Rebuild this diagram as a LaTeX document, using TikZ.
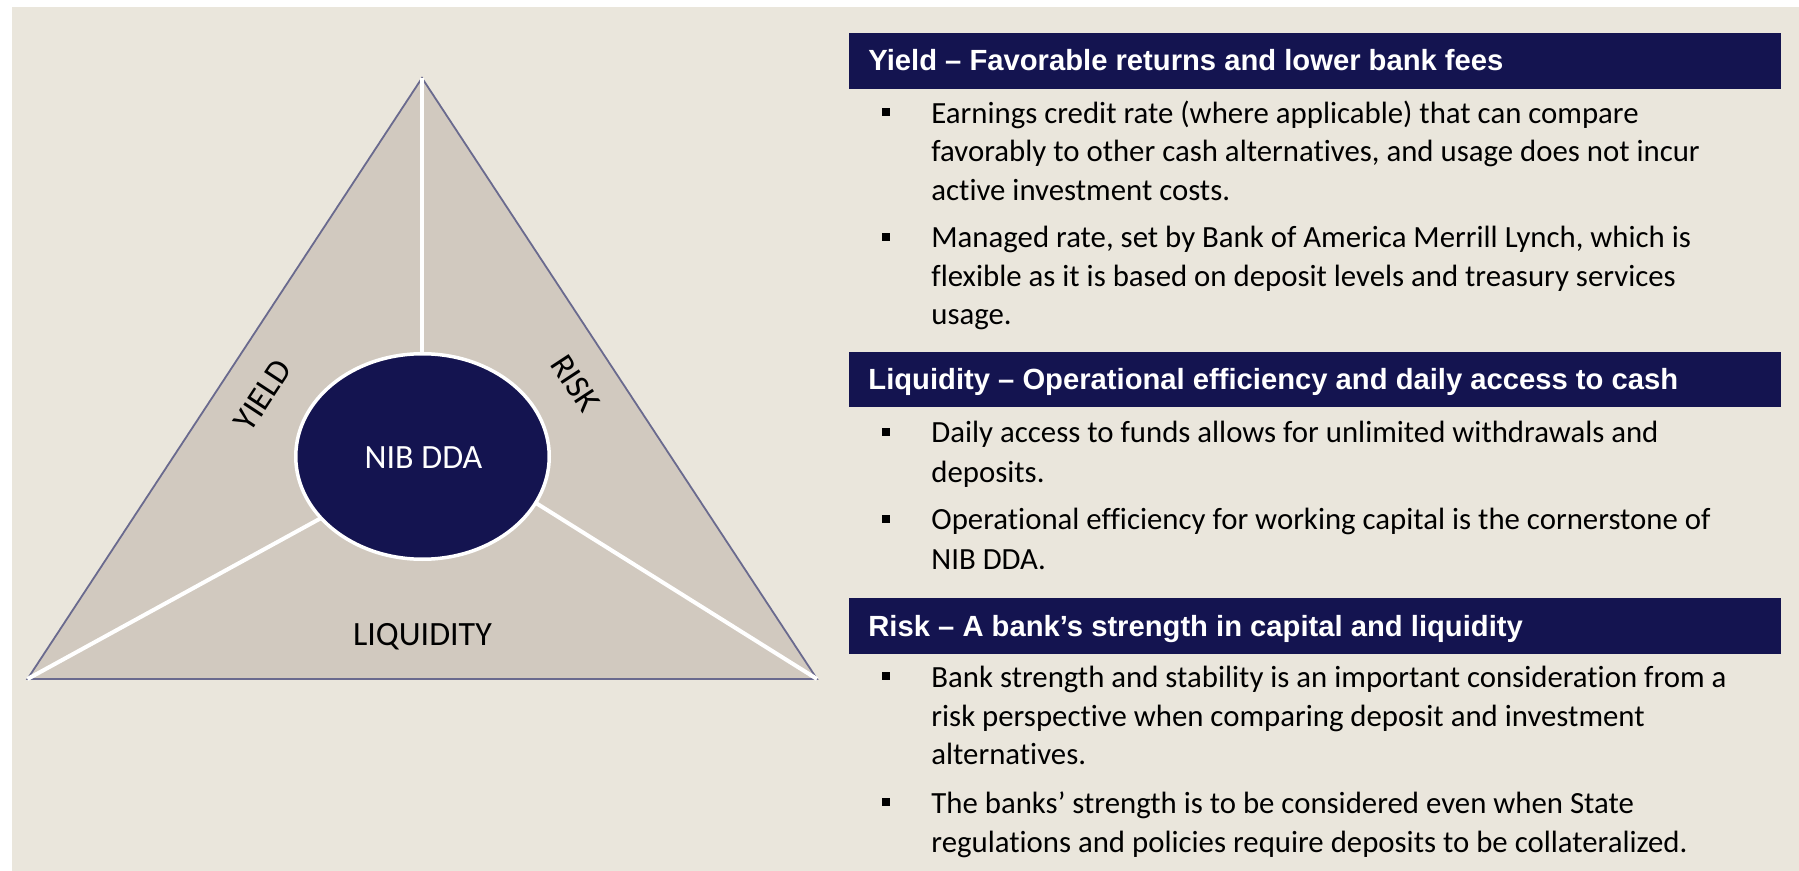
\documentclass[tikz,border=0pt]{standalone}
\usepackage{fontspec}
\setmainfont{Carlito}[Ligatures=NoCommon]
\newfontfamily\hdrfont{Liberation Sans}
\usetikzlibrary{shapes.geometric}
\definecolor{bg}{HTML}{EAE6DC}
\definecolor{tri}{HTML}{D1C9BF}
\definecolor{triedge}{HTML}{6A6A8E}
\definecolor{navy}{HTML}{141450}
\begin{document}
\begin{tikzpicture}[x=0.5pt,y=-0.5pt,
  hdrbar/.style={fill=navy, draw=none},
  hdrtext/.style={anchor=base west, inner sep=0, text=white, font=\hdrfont\bfseries\fontsize{14.6pt}{17pt}\selectfont},
  bodytext/.style={anchor=base west, inner sep=0, text=black, font=\fontsize{15.4pt}{18pt}\selectfont},
  bulletsq/.style={fill=black, draw=none, minimum size=4pt, inner sep=0, shape=rectangle},
  trilabel/.style={inner sep=0, font=\fontsize{17pt}{20pt}\selectfont},
  divider/.style={draw=white, line width=2pt}
]
\useasboundingbox (0,0) rectangle (1799,871);
\fill[white] (0,0) rectangle (1799,871);
\fill[bg] (12,7) rectangle (1799,871);

% triangle
\coordinate (apex) at (422,78);
\coordinate (bl) at (27.5,679);
\coordinate (br) at (817,679);
\fill[tri, draw=triedge, line width=0.9pt, line join=miter] (apex) -- (br) -- (bl) -- cycle;
\coordinate (topend) at (422,400);
\coordinate (lend) at (330,513.2);
\coordinate (rend) at (520,493);
\draw[divider] (apex) -- (topend);
\draw[divider] (bl) -- (lend);
\draw[divider] (br) -- (rend);
\node[ellipse, fill=navy, draw=white, line width=1.75pt, minimum width=126.75pt, minimum height=102.75pt, inner sep=0] (core) at (422.5,456.5) {};
\node[trilabel, anchor=base, text=white] (nib) at (423.5,469) {NIB DDA};
\node[trilabel, rotate=56.7] (yield) at (263,395.5) {YIELD};
\node[trilabel, rotate=-56.7] (risk) at (575.5,383.5) {RISK};
\node[trilabel, anchor=base] (liq) at (422.5,645.5) {LIQUIDITY};

% header bars
\fill[hdrbar] (849,33) rectangle (1781,89);
\fill[hdrbar] (849,352) rectangle (1781,407);
\fill[hdrbar] (849,598) rectangle (1781,654);
\node[hdrtext] (h1) at (868,71) {Yield – Favorable returns and lower bank fees};
\node[hdrtext] (h2) at (868,390) {Liquidity – Operational efficiency and daily access to cash};
\node[hdrtext] (h3) at (868,636) {Risk – A bank’s strength in capital and liquidity};

% bullets
\node[bulletsq] (b1) at (885.5,112) {};
\node[bulletsq] (b2) at (885.5,237) {};
\node[bulletsq] (b3) at (885.5,432) {};
\node[bulletsq] (b4) at (885.5,519) {};
\node[bulletsq] (b5) at (885.5,676) {};
\node[bulletsq] (b6) at (885.5,802) {};

% body text
\node[bodytext] (t1a) at (931,123.5) {Earnings credit rate (where applicable) that can compare};
\node[bodytext] (t1b) at (931,162) {favorably to other cash alternatives, and usage does not incur};
\node[bodytext] (t1c) at (931,200.5) {active investment costs.};
\node[bodytext] (t2a) at (931,248) {Managed rate, set by Bank of America Merrill Lynch, which is};
\node[bodytext] (t2b) at (931,287) {flexible as it is based on deposit levels and treasury services};
\node[bodytext] (t2c) at (931,325) {usage.};
\node[bodytext] (t3a) at (931,443) {Daily access to funds allows for unlimited withdrawals and};
\node[bodytext] (t3b) at (931,482) {deposits.};
\node[bodytext] (t4a) at (931,530) {Operational efficiency for working capital is the cornerstone of};
\node[bodytext] (t4b) at (931,569) {NIB DDA.};
\node[bodytext] (t5a) at (931,687) {Bank strength and stability is an important consideration from a};
\node[bodytext] (t5b) at (931,726) {risk perspective when comparing deposit and investment};
\node[bodytext] (t5c) at (931,764) {alternatives.};
\node[bodytext] (t6a) at (931,813) {The banks’ strength is to be considered even when State};
\node[bodytext] (t6b) at (931,852) {regulations and policies require deposits to be collateralized.};
\end{tikzpicture}
\end{document}
